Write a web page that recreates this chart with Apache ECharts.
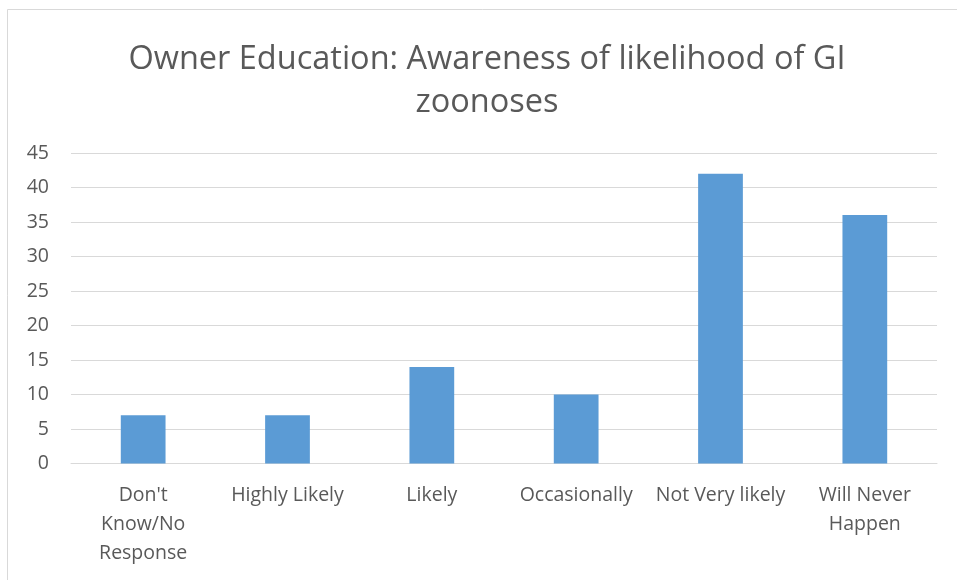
<!DOCTYPE html>
<html>
<head>
<meta charset="utf-8">
<script src="https://cdn.jsdelivr.net/npm/echarts@6/dist/echarts.min.js"></script>
<style>
  html, body { margin: 0; padding: 0; background: #fff; overflow: hidden; }
  #chart { width: 957px; height: 580px; }
</style>
</head>
<body>
<div id="chart"></div>
<script>
"use strict";
// data
var categories = ["Don't\nKnow/No\nResponse", "Highly Likely", "Likely", "Occasionally", "Not Very likely", "Will Never\nHappen"];
var counts = [7, 7, 14, 10, 42, 36];
var yTicks = { min: 0, max: 45, interval: 5 };
var titleText = "Owner Education: Awareness of likelihood of GI\nzoonoses";

var chart = echarts.init(document.getElementById("chart"));
var textColor = "#595959";
var font = "Open Sans";

var options = {
    animation: false,
    backgroundColor: "#fff",
    title: {
        text: titleText,
        left: 482,
        textAlign: "center",
        top: 33,
        textStyle: {
            fontFamily: font,
            fontSize: 32.5,
            fontWeight: "normal",
            color: textColor,
            lineHeight: 43
        }
    },
    grid: { left: 71, right: 20, top: 153, bottom: 116.5 },
    xAxis: {
        type: "category",
        data: categories,
        axisLine: { lineStyle: { color: "#d9d9d9", width: 1 } },
        axisTick: { show: false },
        axisLabel: {
            interval: 0,
            margin: 17,
            fontFamily: font,
            fontSize: 19.5,
            color: textColor,
            lineHeight: 29
        }
    },
    yAxis: {
        type: "value",
        min: yTicks.min,
        max: yTicks.max,
        interval: yTicks.interval,
        axisLine: { show: false },
        axisTick: { show: false },
        axisLabel: {
            margin: 22,
            fontFamily: font,
            fontSize: 19.5,
            color: textColor
        },
        splitLine: { lineStyle: { color: "#d9d9d9", width: 1 } }
    },
    series: [{
        type: "bar",
        data: counts,
        barWidth: "31%",
        itemStyle: { color: "#5b9bd5" }
    }],
    graphic: [{
        type: "rect",
        z: -1,
        shape: { x: 7.5, y: 9.5, width: 1000, height: 1000 },
        style: { fill: "none", stroke: "#d9d9d9", lineWidth: 1 }
    }]
};
chart.setOption(options);
</script>
</body>
</html>
